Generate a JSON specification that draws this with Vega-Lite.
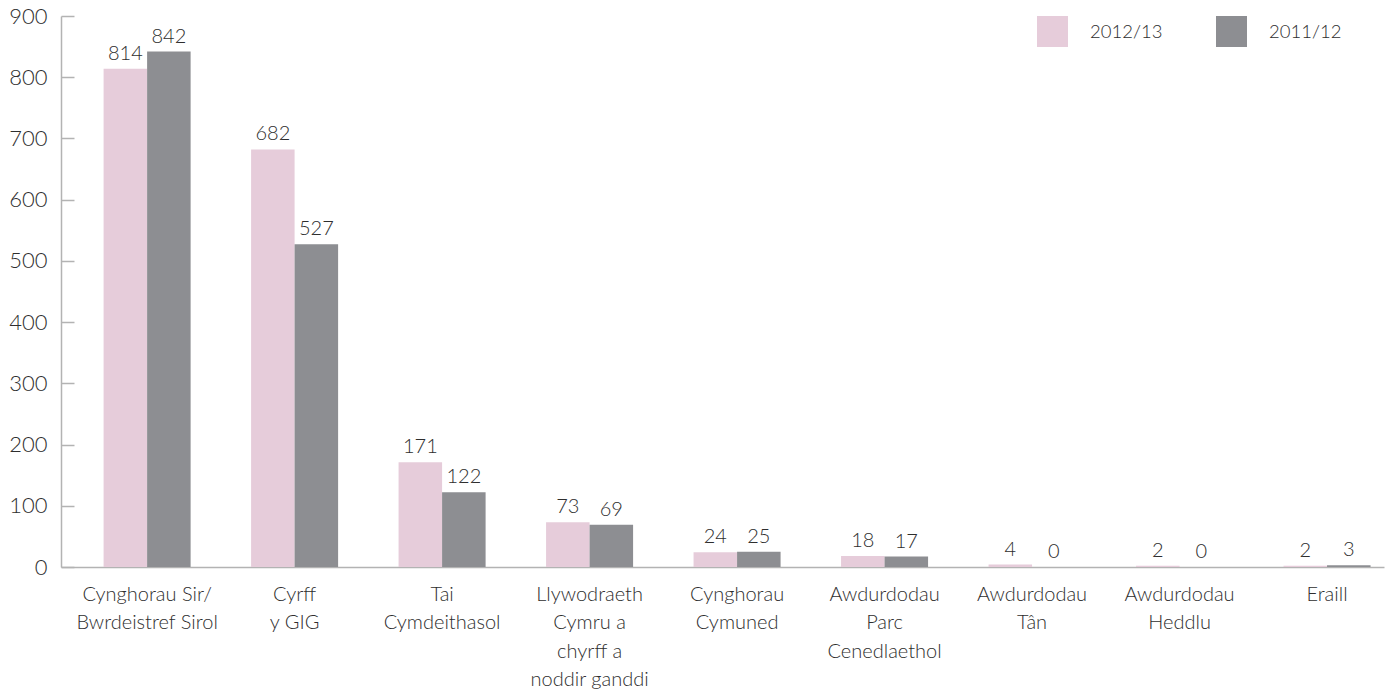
{
  "$schema": "https://vega.github.io/schema/vega-lite/v6.json",
  "width": 1323,
  "height": 551,
  "autosize": {"type": "none"},
  "padding": {"left": 61, "top": 16, "right": 8, "bottom": 126},
  "background": "white",
  "config": {
    "view": {"stroke": null},
    "font": "Lato",
    "text": {"font": "Lato"},
    "axis": {"labelFont": "Lato", "labelFontWeight": 300},
    "legend": {"labelFont": "Lato", "labelFontWeight": 300}
  },
  "data": {
    "values": [
      {"cat": "Cynghorau Sir/|Bwrdeistref Sirol", "series": "2012/13", "value": 814},
      {"cat": "Cynghorau Sir/|Bwrdeistref Sirol", "series": "2011/12", "value": 842},
      {"cat": "Cyrff|y GIG", "series": "2012/13", "value": 682},
      {"cat": "Cyrff|y GIG", "series": "2011/12", "value": 527},
      {"cat": "Tai|Cymdeithasol", "series": "2012/13", "value": 171},
      {"cat": "Tai|Cymdeithasol", "series": "2011/12", "value": 122},
      {"cat": "Llywodraeth|Cymru a|chyrff a|noddir ganddi", "series": "2012/13", "value": 73},
      {"cat": "Llywodraeth|Cymru a|chyrff a|noddir ganddi", "series": "2011/12", "value": 69},
      {"cat": "Cynghorau|Cymuned", "series": "2012/13", "value": 24},
      {"cat": "Cynghorau|Cymuned", "series": "2011/12", "value": 25},
      {"cat": "Awdurdodau|Parc|Cenedlaethol", "series": "2012/13", "value": 18},
      {"cat": "Awdurdodau|Parc|Cenedlaethol", "series": "2011/12", "value": 17},
      {"cat": "Awdurdodau|Tân", "series": "2012/13", "value": 4},
      {"cat": "Awdurdodau|Tân", "series": "2011/12", "value": 0},
      {"cat": "Awdurdodau|Heddlu", "series": "2012/13", "value": 2},
      {"cat": "Awdurdodau|Heddlu", "series": "2011/12", "value": 0},
      {"cat": "Eraill", "series": "2012/13", "value": 2},
      {"cat": "Eraill", "series": "2011/12", "value": 3}
    ]
  },
  "encoding": {
    "x": {
      "field": "cat",
      "type": "nominal",
      "sort": null,
      "scale": {"paddingInner": 0.41, "paddingOuter": 0.19, "align": 0.76},
      "axis": {
        "title": null,
        "labelAngle": 0,
        "labelExpr": "split(datum.label, '|')",
        "ticks": false,
        "labelPadding": 17,
        "labelLineHeight": 28.5,
        "labelBaseline": "top",
        "labelFontSize": 20,
        "labelColor": "#2e2e2e",
        "domainColor": "#b3b3b3",
        "domainWidth": 1.5,
        "grid": false
      }
    },
    "xOffset": {
      "field": "series",
      "type": "nominal",
      "scale": {"domain": ["2012/13", "2011/12"], "paddingInner": 0, "paddingOuter": 0}
    },
    "y": {
      "field": "value",
      "type": "quantitative",
      "scale": {"domain": [0, 900], "nice": false, "zero": true},
      "axis": {
        "title": null,
        "values": [0, 100, 200, 300, 400, 500, 600, 700, 800, 900],
        "tickSize": -13,
        "labelPadding": 27,
        "labelFontSize": 22,
        "labelColor": "#2e2e2e",
        "domainColor": "#b3b3b3",
        "domainWidth": 1.5,
        "tickColor": "#b3b3b3",
        "tickWidth": 1.5,
        "grid": false
      }
    }
  },
  "layer": [
    {
      "mark": {"type": "bar"},
      "encoding": {
        "color": {
          "field": "series",
          "type": "nominal",
          "scale": {"domain": ["2012/13", "2011/12"], "range": ["#e6ccda", "#8d8e92"]},
          "legend": {
            "orient": "none",
            "legendX": 976,
            "legendY": 0,
            "direction": "horizontal",
            "title": null,
            "symbolType": "square",
            "symbolSize": 961,
            "symbolStrokeWidth": 0,
            "symbolOpacity": 1,
            "labelFontSize": 18.5,
            "labelColor": "#2e2e2e",
            "labelOffset": 22,
            "columnPadding": 53
          }
        }
      }
    },
    {
      "mark": {"type": "text", "dy": -9, "baseline": "alphabetic", "fontSize": 20, "color": "#2e2e2e", "fontWeight": 300},
      "encoding": {"text": {"field": "value", "type": "quantitative"}}
    }
  ]
}
